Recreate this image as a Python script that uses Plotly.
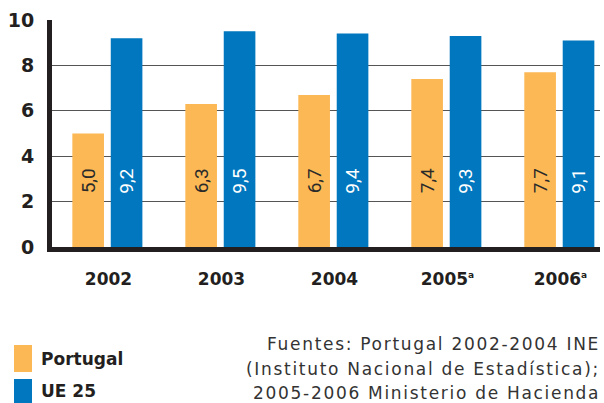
import plotly.graph_objects as go

SUP = "<sup><span style='font-size:9px'>a</span></sup>"
years = ["2002", "2003", "2004", "2005" + SUP, "2006" + SUP]
portugal = [5.0, 6.3, 6.7, 7.4, 7.7]
ue25 = [9.2, 9.5, 9.4, 9.3, 9.1]
yticks = [0, 2, 4, 6, 8, 10]

ORANGE = "#FBB854"
BLUE = "#0077BE"
DARK = "#231f20"
BOLD_FONT = "DejaVu Sans"

def fmt(v):
    return f"{v:.1f}".replace(".", ",")

x_idx = list(range(len(years)))
BAR_W = 0.28
OFF_P = -0.32
OFF_U = 0.02
LABEL_Y = 2.9

fig = go.Figure()
fig.add_trace(go.Bar(
    x=x_idx, y=portugal, name="Portugal", marker_color=ORANGE, marker_line_width=0,
    width=BAR_W, offset=OFF_P,
))
fig.add_trace(go.Bar(
    x=x_idx, y=ue25, name="UE 25", marker_color=BLUE, marker_line_width=0,
    width=BAR_W, offset=OFF_U,
))

# value labels, rotated, at a fixed height inside bars
for i, (p, u) in enumerate(zip(portugal, ue25)):
    fig.add_annotation(x=i + OFF_P + BAR_W / 2, y=LABEL_Y, xref="x", yref="y",
                       text=fmt(p), textangle=-90, showarrow=False,
                       xanchor="center", yanchor="middle",
                       font=dict(family="Roboto", size=19, color="#2a2a2a"))
    fig.add_annotation(x=i + OFF_U + BAR_W / 2, y=LABEL_Y, xref="x", yref="y",
                       text=fmt(u), textangle=-90, showarrow=False,
                       xanchor="center", yanchor="middle",
                       font=dict(family="Roboto", size=19, color="white"))

fig.update_layout(
    width=604, height=403,
    margin=dict(l=52, r=4, t=20, b=156),
    plot_bgcolor="white", paper_bgcolor="white",
    showlegend=False,
    barmode="overlay",
    xaxis=dict(
        tickmode="array", tickvals=x_idx, ticktext=years,
        range=[-0.5, 4.35], showgrid=False, zeroline=False,
        showline=True, linecolor=DARK, linewidth=5,
        tickfont=dict(family=BOLD_FONT, size=17, color=DARK, weight="bold"),
        ticks="", ticklabelstandoff=13,
    ),
    yaxis=dict(
        range=[0, 10], tickvals=yticks, showgrid=True, gridcolor="#555555", gridwidth=1,
        zeroline=False, showline=True, linecolor=DARK, linewidth=5,
        tickfont=dict(family=BOLD_FONT, size=19, color=DARK, weight="bold"),
        ticks="", ticklabelstandoff=9,
    ),
    font=dict(family=BOLD_FONT),
)

# Manual legend (paper coords)
def py(px):
    return -(px - 247) / 227

def pxx(px):
    return (px - 52) / 548

legend_items = [("Portugal", ORANGE, 345, 372), ("UE 25", BLUE, 379, 403)]
for label, col, y0, y1 in legend_items:
    fig.add_shape(type="rect", xref="paper", yref="paper",
                  x0=pxx(14), x1=pxx(32), y0=py(y1), y1=py(y0),
                  fillcolor=col, line_width=0, layer="above")
    fig.add_annotation(xref="paper", yref="paper", x=pxx(39),
                       y=py((y0 + y1) / 2), text=f"<b>{label}</b>",
                       showarrow=False, xanchor="left", yanchor="middle",
                       font=dict(family=BOLD_FONT, size=17, color=DARK))

source_lines = ["Fuentes: Portugal 2002-2004 INE",
                "(Instituto Nacional de Estadística);",
                "2005-2006 Ministerio de Hacienda"]
for i, line in enumerate(source_lines):
    fig.add_annotation(xref="paper", yref="paper", x=pxx(602),
                       y=py(344 + 24.5 * i),
                       text=f"<span style='letter-spacing:1.7px'>{line}</span>",
                       showarrow=False, xanchor="right", yanchor="middle",
                       font=dict(family="DejaVu Sans", size=17, color="#333333"))

fig.write_html("out.html",
               config={"displayModeBar": False},
               post_script="document.body.style.margin='0';document.body.style.overflow='hidden';")
